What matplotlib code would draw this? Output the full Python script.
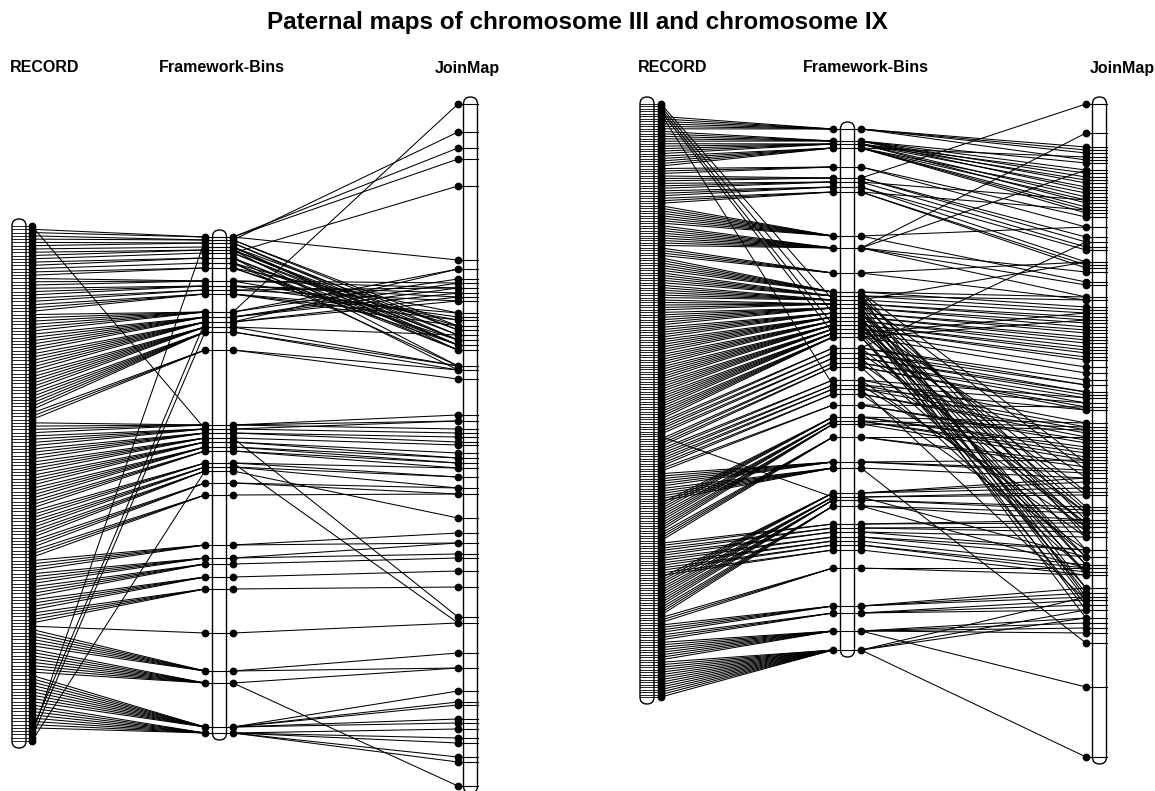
import matplotlib.pyplot as plt
from matplotlib.patches import FancyBboxPatch
import numpy as np

plt.rcParams['font.family'] = ['Liberation Sans', 'DejaVu Sans']

TITLE = "Paternal maps of chromosome III and chromosome IX"
map_names = ["RECORD", "Framework-Bins", "JoinMap"]

# ---- chromosome III (left panel), positions ----
bins_III = [237, 240, 243, 247, 250, 253, 258, 263, 268, 281, 286, 290, 294,
            312, 317, 322, 327, 332, 350, 425, 429, 433, 438, 442, 447, 451,
            463, 467, 471, 483, 495, 545, 558, 564, 577, 589, 633, 671, 683,
            727, 733]

joinmap_III = [104, 132, 148, 159, 186, 260, 269, 279, 283, 288, 293, 297, 301,
               313, 317, 320, 326, 330, 335, 340, 345, 350, 366, 370, 379, 415,
               421, 429, 433, 437, 442, 445, 453, 458, 463, 468, 477, 488, 494,
               518, 533, 543, 554, 558, 571, 587, 617, 623, 653, 668, 691, 702,
               705, 719, 723, 729, 738, 743, 757, 762, 786]

# RECORD order: runs of (bin position, number of markers)
record_III = [(429, 1),
              (237, 2), (240, 2), (243, 2), (247, 1), (250, 2), (253, 1),
              (258, 2), (263, 1), (268, 2),
              (281, 3), (286, 3), (290, 2), (294, 3),
              (312, 6), (317, 6), (322, 6), (327, 6), (332, 6),
              (350, 3),
              (425, 4), (429, 4), (433, 4), (438, 4), (442, 4), (447, 4), (451, 3),
              (463, 3), (467, 3), (471, 3), (483, 3), (495, 3),
              (545, 4), (558, 4), (564, 4), (577, 4), (589, 4),
              (633, 1),
              (671, 6), (683, 8),
              (727, 9), (733, 8),
              (322, 1), (240, 1), (332, 1), (471, 1)]

# bin -> JoinMap links
links_III = {237: [260, 148, 159], 240: [132, 326, 330], 243: [335, 340],
             247: [330, 345, 350], 250: [335, 340, 366], 253: [186, 340, 345],
             258: [345, 350, 370], 263: [350, 366, 326], 268: [340, 345, 313],
             281: [283, 288, 320], 286: [293, 297, 317], 290: [288, 301],
             294: [313, 320, 326], 312: [104, 269, 279], 317: [283, 288, 293],
             322: [297, 301, 269], 327: [335, 366], 332: [370, 366],
             350: [370, 379],
             425: [415, 421, 429], 429: [421, 433], 433: [437, 442],
             438: [445, 617], 442: [453, 458], 447: [458, 463],
             451: [463, 468], 463: [468, 477, 623], 467: [477, 488],
             471: [518], 483: [488, 494], 495: [494],
             545: [533, 543], 558: [543, 554], 564: [558], 577: [571],
             589: [587], 633: [623], 671: [653, 668], 683: [668, 786],
             727: [691, 702, 705, 719, 723], 733: [729, 738, 743, 757, 762]}

# ---- chromosome IX (right panel) ----
bins_IX = [129, 141, 144, 148, 167, 178, 182, 187, 192, 236, 248, 273, 292,
           296, 300, 304, 308, 313, 317, 321, 325, 329, 333, 337, 348, 353,
           358, 363, 367, 380, 385, 389, 394, 405, 417, 421, 424, 437, 462,
           468, 493, 497, 500, 506, 524, 528, 532, 537, 541, 545, 550, 568,
           606, 613, 631, 650]

joinmap_IX = [104, 133, 147, 150, 153, 157, 160, 163, 170, 173, 177, 180, 183,
              187, 190, 193, 197, 200, 203, 207, 210, 213, 217, 227, 237, 242,
              247, 250, 262, 265, 268, 272, 282, 285, 297, 300, 307, 310, 313,
              317, 320, 323, 327, 330, 333, 337, 340, 343, 347, 350, 353, 357,
              360, 367, 373, 380, 385, 392, 395, 398, 403, 407, 410, 423, 427,
              430, 433, 437, 440, 443, 447, 450, 453, 457, 460, 463, 467, 470,
              473, 478, 482, 488, 492, 495, 507, 510, 513, 520, 523, 527, 532,
              537, 550, 557, 565, 568, 572, 575, 588, 593, 597, 600, 605, 610,
              618, 623, 628, 633, 643, 687, 757]

record_IX = [(300, 1), (313, 1), (325, 1), (333, 1), (385, 1),
             (129, 6), (141, 5), (144, 5), (148, 5),
             (167, 3), (178, 3), (182, 3), (187, 3), (192, 3),
             (236, 8), (248, 9), (273, 4),
             (292, 6), (296, 5), (300, 6), (304, 5), (308, 6), (313, 5),
             (317, 6), (321, 5), (325, 6), (329, 5), (333, 6), (337, 5),
             (348, 2), (353, 2), (358, 2), (497, 1), (363, 2), (367, 2),
             (380, 2), (385, 2), (389, 2), (394, 2), (405, 2),
             (462, 6), (468, 6),
             (417, 4), (421, 4), (424, 4), (437, 4),
             (524, 2), (528, 2), (532, 2), (537, 2), (541, 2), (545, 2), (550, 2),
             (493, 4), (497, 4), (500, 4), (506, 4),
             (568, 3), (606, 4), (613, 3), (631, 8), (650, 15)]

links_IX = {129: [147, 150, 153, 160], 141: [163, 170, 177, 183, 190],
            144: [173, 180, 187, 197, 203], 148: [157, 193, 200, 207, 210, 213],
            167: [217, 227], 178: [104, 237, 242], 182: [247, 200],
            187: [250, 262], 192: [265, 268, 210], 236: [227, 282],
            248: [133, 170, 285, 297, 272], 273: [262, 300],
            292: [297, 307, 537, 463], 296: [300, 310, 520, 597],
            300: [313, 262, 550, 470], 304: [317, 320, 507, 588],
            308: [323, 327, 565, 600], 313: [330, 333, 575, 527, 492],
            317: [337, 340, 593, 610], 321: [343, 347, 510, 618, 478],
            325: [350, 353, 532, 565], 329: [357, 360, 557, 495],
            333: [367, 313, 605, 513], 337: [373, 320, 588, 572],
            348: [242, 380, 385, 523], 353: [385, 392, 513], 358: [392, 395, 557],
            363: [398, 403, 523], 367: [407, 410, 572], 380: [398, 423, 537],
            385: [403, 427, 527], 389: [410, 430, 600], 394: [433, 437, 550],
            405: [407, 440, 443], 417: [423, 447, 450], 421: [427, 453, 457],
            424: [430, 460], 437: [437, 463, 467], 462: [460, 470, 473],
            468: [478, 643], 493: [478, 482, 488], 497: [492, 495, 557],
            500: [507, 510], 506: [513, 520, 568], 524: [520, 523],
            528: [527, 532], 532: [537, 550], 537: [550, 557], 541: [565],
            545: [568, 572], 550: [575], 568: [568, 575],
            606: [588, 593, 597], 613: [600, 605, 610],
            631: [618, 623, 628, 633, 687], 650: [597, 610, 618, 757]}

# x layout of each panel (pixels)
layout_III = dict(rec_x=19, rec_dot=32, rec_top=226, rec_bot=741,
                  bin_x=219.5, bin_l=205, bin_r=233, jm_x=470.5, jm_dot=458,
                  head_x=[10, 222, 467], head_ha=['left', 'center', 'center'])
layout_IX = dict(rec_x=647, rec_dot=661, rec_top=104, rec_bot=697,
                 bin_x=847.5, bin_l=833, bin_r=861, jm_x=1099.5, jm_dot=1086,
                 head_x=[638, 866, 1122], head_ha=['left', 'center', 'center'])

HALF = 7
LW = 0.75


def chromosome(ax, cx, ys, band_x0, band_x1, band_lw=0.8):
  top, bot = min(ys) - HALF, max(ys) + HALF
  ax.add_patch(FancyBboxPatch((cx - HALF, top), 2 * HALF, bot - top,
                              boxstyle="round,pad=0,rounding_size=%d" % HALF,
                              fc='white', ec='black', lw=1.0, zorder=2))
  for y in ys:
    ax.plot([band_x0, band_x1], [y, y], color='black', lw=band_lw, zorder=3)


def dots(ax, x, ys):
  ax.plot([x] * len(ys), ys, 'o', color='black', ms=5.6, mew=0, zorder=4)


def draw_panel(ax, lay, bins, jm, record, links):
  rec_bins = []
  for b, n in record:
    rec_bins += [b] * n
  # RECORD markers are placed by rank
  rec_y = np.linspace(lay['rec_top'], lay['rec_bot'], len(rec_bins))

  for y, b in zip(rec_y, rec_bins):
    ax.plot([lay['rec_dot'], lay['bin_l']], [y, b], color='black', lw=LW, zorder=1)
  for b, targets in links.items():
    for t in targets:
      ax.plot([lay['bin_r'], lay['jm_dot']], [b, t], color='black', lw=LW, zorder=1)

  chromosome(ax, lay['rec_x'], rec_y, lay['rec_x'] - HALF, lay['rec_dot'], band_lw=0.6)
  dots(ax, lay['rec_dot'], rec_y)
  chromosome(ax, lay['bin_x'], bins, lay['bin_l'], lay['bin_r'])
  dots(ax, lay['bin_l'], bins)
  dots(ax, lay['bin_r'], bins)
  chromosome(ax, lay['jm_x'], jm, lay['jm_dot'], lay['jm_x'] + HALF)
  dots(ax, lay['jm_dot'], jm)

  for name, x, ha in zip(map_names, lay['head_x'], lay['head_ha']):
    ax.text(x, 68, name, ha=ha, va='center', fontsize=11.5, fontweight='bold')


fig = plt.figure(figsize=(11.55, 7.91), dpi=100)
ax = fig.add_axes([0, 0, 1, 1])
ax.set_xlim(0, 1155)
ax.set_ylim(791, 0)
ax.axis('off')

draw_panel(ax, layout_III, bins_III, joinmap_III, record_III, links_III)
draw_panel(ax, layout_IX, bins_IX, joinmap_IX, record_IX, links_IX)

ax.text(577, 22, TITLE, ha='center', va='center', fontsize=17.5, fontweight='bold')

fig.savefig("out.png", dpi=100)
